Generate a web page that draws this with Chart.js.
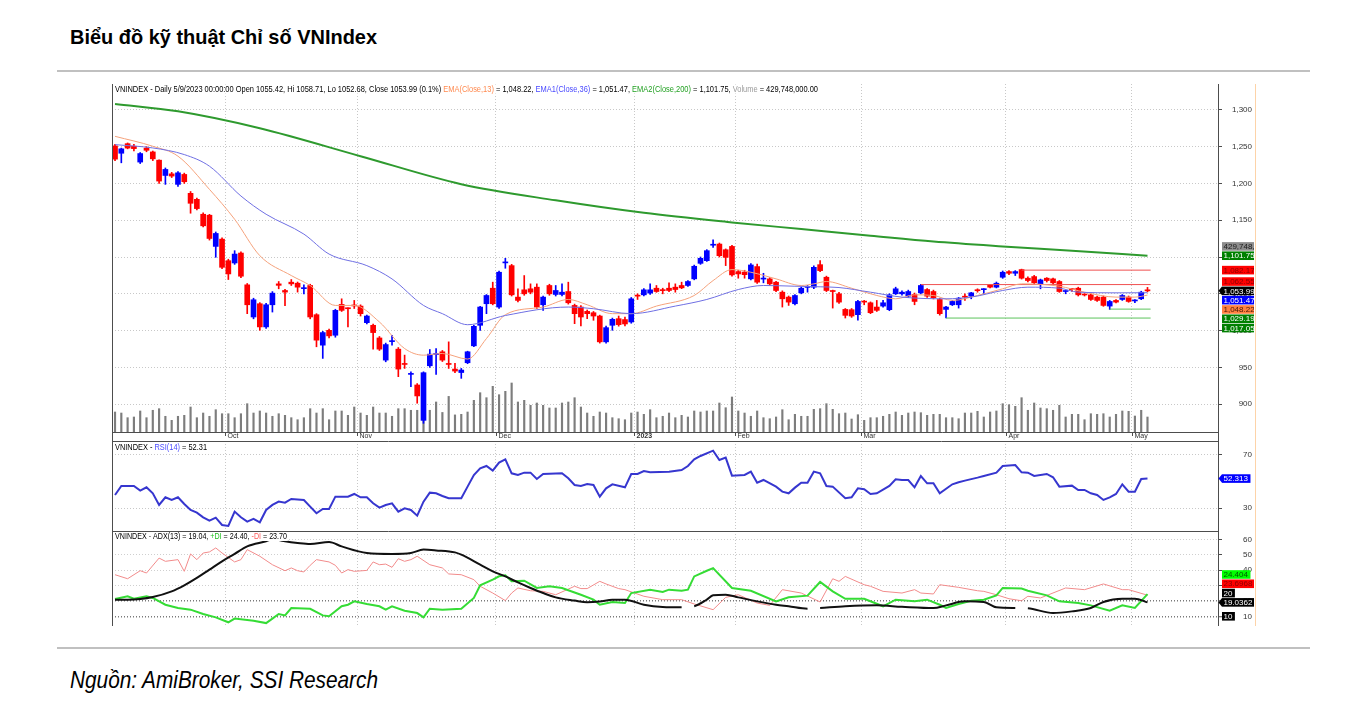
<!DOCTYPE html>
<html>
<head>
<meta charset="UTF-8">
<title>VNIndex</title>
<script src="https://cdn.jsdelivr.net/npm/chart.js"></script>
<style>
  body { margin: 0; background: #fff; }
  #page { position: relative; width: 1348px; height: 707px; overflow: hidden; }
  .txt { position: absolute; white-space: nowrap; line-height: 1; transform-origin: 0 0;
         font-family: "Liberation Sans Narrow", "Liberation Sans", Arial, sans-serif; color: #000; }
  #title { left: 70px; top: 26px; font-size: 21px; font-weight: bold; }
  #foot { left: 70px; top: 668px; font-size: 24px; font-style: italic; }
  .rule { position: absolute; left: 57px; width: 1253px; height: 2px; background: #c0c0c0; }
  canvas { position: absolute; left: 112px; }
</style>
</head>
<body>
<div id="page">
  <div id="title" class="txt">Biểu đồ kỹ thuật Chỉ số VNIndex</div>
  <div class="rule" style="top:70px"></div>
  <canvas id="main" width="1146" height="357" style="top:84px"></canvas>
  <canvas id="rsi" width="1146" height="90" style="top:441px"></canvas>
  <canvas id="adx" width="1146" height="95" style="top:531px"></canvas>
  <div class="rule" style="top:647px"></div>
  <div id="foot" class="txt">Nguồn: AmiBroker, SSI Research</div>
</div>
<script>
// ---- data (one entry per trading day, Sep 2022 - 9 May 2023)
const openP = [
  1251, 1241, 1254, 1250.5, 1229, 1248, 1242.8, 1231.6, 1210.8, 1213,
  1198.7, 1212.2, 1186.5, 1178.4, 1158.1, 1156.8, 1114.4, 1124.3, 1095, 1091.9,
  1105.4, 1062.2, 1018.5, 1036.5, 1005, 1035.1, 1063.5, 1054.5, 1065.8, 1064.4,
  1057, 1061.3, 1021.6, 980.2, 1000.4, 993.7, 1035.6, 1030.3, 1034.3, 1033.3,
  1010.8, 1007.2, 990, 959.9, 985, 974.8, 954.5, 940.5, 926.1, 878,
  952.2, 967.5, 971.2, 955, 947.7, 943, 956.3, 979.3, 1007.2, 1036.5,
  1057.6, 1032, 1092, 1088.3, 1045.5, 1055.4, 1056.8, 1059, 1035.1, 1061.3,
  1049.1, 1049.1, 1053.1, 1034.2, 1032, 1026.1, 1024.3, 1019.8, 984.7, 1007.2,
  1016.2, 1015, 1011.7, 1047.5, 1048.6, 1050.9, 1057.6, 1054.8, 1057.6, 1059,
  1061.3, 1061.3, 1070.3, 1091.4, 1095, 1116, 1117.6, 1109.9, 1114.4, 1080.2,
  1079.5, 1070.3, 1087, 1070, 1070.3, 1065.8, 1052.2, 1045.5, 1036.5, 1051.3,
  1058.7, 1059, 1089.6, 1072.5, 1053.5, 1050, 1028.8, 1028.4, 1021.6, 1039.2,
  1037.8, 1032, 1033.3, 1028.4, 1050, 1050, 1046.8, 1049.1, 1051.3, 1055.8,
  1053.1, 1042.3, 1028.8, 1035.1, 1035.1, 1045.8, 1046.8, 1054.7, 1055.6, 1062.2,
  1059, 1072.5, 1080.2, 1077.9, 1082.9, 1071.2, 1073.4, 1063.5, 1071.2, 1070.3,
  1066.7, 1053.1, 1056, 1057.6, 1048.8, 1048.6, 1045.5, 1045.5, 1033.3, 1041,
  1042.3, 1045.5, 1040.3, 1043.2, 1055.42
];
const highP = [
  1253, 1248, 1255, 1253, 1242, 1250, 1244, 1232, 1221, 1215,
  1216, 1214, 1189, 1180, 1160, 1158, 1134, 1126, 1097, 1108.6,
  1107, 1064, 1044, 1038, 1037, 1053, 1066.7, 1056, 1069.4, 1066,
  1062.2, 1063, 1023, 999, 1002, 1029, 1043.2, 1031, 1041, 1035,
  1021, 1009, 992, 983, 993.7, 977, 966.7, 944.1, 928, 944,
  974.3, 975.7, 973, 984.7, 955.4, 948.6, 972, 1007, 1033, 1049,
  1065.8, 1081, 1098.2, 1090, 1056.8, 1074.8, 1063.5, 1063.5, 1047, 1063,
  1061.3, 1063.5, 1065.8, 1036, 1034, 1028, 1026, 1021, 1006, 1017,
  1019.8, 1018.5, 1045, 1050, 1057, 1063.5, 1061.3, 1057.6, 1064.9, 1063.5,
  1065.8, 1068, 1089, 1100, 1110, 1123.4, 1119, 1111, 1116, 1082,
  1082, 1091, 1090.5, 1077.9, 1072, 1067, 1054, 1047, 1049, 1059,
  1061.3, 1088, 1095, 1074, 1055, 1052, 1030, 1030, 1041, 1041,
  1039, 1041, 1041, 1050, 1059, 1054, 1055, 1051, 1063, 1057,
  1055, 1044, 1033, 1041, 1045, 1050, 1052, 1056.8, 1057, 1063,
  1066, 1081, 1081.5, 1081.5, 1083.5, 1073, 1075, 1070, 1072, 1071.5,
  1068, 1054, 1057.6, 1059, 1050, 1050, 1047, 1047, 1041, 1042.3,
  1049, 1047, 1042.3, 1053.5, 1058.71
];
const lowP = [
  1231, 1228, 1247, 1244, 1227, 1243, 1231, 1200, 1198.7, 1208,
  1196, 1200, 1159.5, 1164, 1141, 1123, 1099.6, 1084, 1069.4, 1090,
  1072, 1023, 1016, 1000.4, 1003, 1025.2, 1056.8, 1034, 1061.3, 1052.3,
  1050, 1016, 978, 962.2, 990, 991, 1026, 1005, 1030, 1019.8,
  1009, 974.8, 973, 957.6, 980.2, 937.4, 948.6, 923.9, 901.3, 874,
  950, 940.5, 958, 948.6, 942.8, 935.1, 955, 978, 1000.4, 1023,
  1035, 1030, 1084.7, 1047, 1039, 1048, 1050, 1030, 1027.5, 1048,
  1047, 1047, 1036, 1009.4, 1006.3, 1016.2, 1014, 983, 983, 1000.4,
  1006, 1006.5, 1010, 1042.3, 1047, 1049, 1052, 1050, 1053, 1052.2,
  1057, 1060, 1069, 1090, 1094, 1113.1, 1100, 1088.3, 1074, 1071.2,
  1071.2, 1069, 1064, 1064.9, 1062, 1053, 1032, 1034.2, 1035, 1050,
  1052.2, 1057, 1080, 1053, 1030.6, 1037, 1017.1, 1018, 1014, 1035.1,
  1023, 1026, 1032, 1027, 1049, 1048, 1045, 1035.1, 1050, 1045,
  1043, 1021, 1017.1, 1034, 1030.6, 1041, 1043.2, 1052.2, 1050, 1058,
  1058, 1071, 1076, 1074.8, 1070, 1066, 1063, 1056.8, 1066, 1063.5,
  1052, 1050, 1053.1, 1047, 1047, 1041, 1039.5, 1033, 1028.8, 1037.5,
  1041, 1038.5, 1037.8, 1042, 1052.68
];
const closeP = [
  1233, 1247, 1248, 1247.3, 1240.6, 1245, 1233.4, 1203.2, 1219, 1210,
  1214.4, 1202.3, 1173, 1165.8, 1142.4, 1125.2, 1132, 1086, 1077, 1104,
  1073.9, 1035.1, 1041.9, 1005, 1035.1, 1050.9, 1061.5, 1052.3, 1063.5, 1059,
  1058, 1018.5, 987, 997.3, 992.8, 1027.5, 1027.5, 1029.7, 1033.5, 1023,
  1019.8, 997.3, 974.8, 981, 985.6, 947.7, 954, 941, 911.2, 942.8,
  968, 968, 959.9, 954, 945, 946.4, 971.2, 1005.8, 1032, 1047.7,
  1036.5, 1079.3, 1093, 1048.6, 1041, 1050, 1052.2, 1032, 1045.5, 1050,
  1054.5, 1052.2, 1037.8, 1023, 1018.5, 1023, 1019.8, 984.7, 1004, 1015.3,
  1008.1, 1009, 1043.2, 1046.8, 1055.4, 1055.4, 1053.1, 1054.3, 1054.5, 1055.8,
  1058.1, 1066.7, 1087.4, 1098.2, 1108.6, 1116.5, 1101.8, 1099.5, 1075.7, 1077,
  1076, 1089.2, 1065.8, 1070.5, 1063.5, 1054.5, 1043.2, 1038.7, 1047.7, 1057.6,
  1059.2, 1086, 1081.5, 1054.5, 1053.1, 1038.7, 1020.7, 1019.8, 1039.6, 1038.7,
  1024.3, 1027.5, 1037.8, 1048.6, 1056.8, 1052.2, 1053.1, 1039.6, 1061.3, 1046.8,
  1044.6, 1023, 1032, 1039.6, 1044.1, 1045.4, 1051.3, 1054.2, 1056, 1059,
  1064.4, 1079.3, 1077.9, 1080.2, 1071.2, 1068, 1064.9, 1068.9, 1068, 1064.9,
  1053.1, 1053.5, 1055.6, 1048.6, 1048.4, 1042.3, 1041, 1034.2, 1039.6, 1038.7,
  1047.7, 1039.6, 1040.7, 1052.2, 1053.99
];
// volume, millions of shares
const volume = [
  573, 544, 410, 430, 602, 410, 622, 668, 450, 335,
  450, 478, 716, 410, 544, 450, 639, 524, 524, 410,
  524, 811, 544, 602, 544, 450, 524, 478, 410, 352,
  410, 668, 544, 668, 352, 602, 602, 478, 716, 544,
  478, 716, 544, 544, 450, 668, 668, 622, 622, 811,
  622, 860, 560, 1020, 490, 507, 573, 908, 1126, 983,
  1309, 1069, 1166, 1404, 860, 908, 765, 831, 765, 688,
  688, 831, 860, 983, 716, 544, 450, 573, 544, 410,
  381, 352, 544, 573, 507, 639, 410, 450, 544, 410,
  478, 430, 602, 573, 602, 602, 831, 696, 1003, 602,
  544, 450, 602, 410, 381, 430, 639, 352, 507, 450,
  450, 650, 668, 811, 650, 524, 544, 372, 496, 335,
  410, 410, 450, 507, 573, 478, 544, 573, 553, 478,
  507, 507, 410, 410, 381, 544, 544, 593, 430, 573,
  602, 811, 782, 736, 983, 622, 831, 688, 668, 622,
  765, 430, 507, 507, 352, 524, 507, 524, 430, 507,
  602, 593, 458, 622, 429.7
];
// moving averages: [day index, value]
const ema13 = [[0,1264],[6,1250.5],[10,1237],[15,1191.9],[19,1151.3],[23,1101.8],[28,1074.8],[31,1061.2],
  [35,1034.2],[38,1034.2],[42,1011.7],[46,975.6],[49,966.6],[52,968.9],[56,961.3],[59,989.2],[62,1021.6],
  [68,1032],[72,1042.3],[75,1035.1],[79,1023],[82,1023],[86,1033.3],[92,1047.7],[95,1068],[98,1082.9],
  [101,1079.3],[105,1070.3],[109,1061.3],[111,1063.5],[113,1066.7],[117,1057.6],[121,1047.7],[124,1043.2],
  [127,1048.6],[130,1047.7],[133,1041],[137,1047.7],[141,1056.8],[144,1063.5],[150,1060.3],[154,1052.2],
  [159,1045.5],[162,1045.5],[164,1048.22]];
const ema36 = [[0,1252.7],[6,1248.2],[11,1239.2],[15,1223.4],[20,1182.9],[24,1158.1],[30,1131.1],[34,1104],
  [40,1088.3],[44,1070.2],[49,1034.2],[52,1023],[56,1008],[62,1020.5],[72,1032],[76,1029.7],[82,1023],
  [89,1033.3],[94,1042.3],[99,1055.8],[103,1061.3],[108,1060.3],[112,1059.5],[115,1058.5],[120,1052.2],
  [125,1045.5],[132,1043.2],[136,1045.5],[141,1054.5],[145,1059],[150,1057.6],[153,1052.2],[159,1051.3],
  [164,1051.47]];
const ema200 = [[0,1308],[10,1298],[23,1275],[39,1237],[55,1199],[70,1177],[84,1160],[98,1147],[109,1138],
  [120,1129],[130,1121],[141,1114.4],[152,1108.6],[164,1101.75]];
// horizontal levels: value, first day
const resistLevels = [1082.17, 1062.55];
const resistFrom = [144, 128];
const supportLevels = [1029.19, 1017.05];
const supportFrom = [158, 132];
const levelTo = 164.5;

const rsi = [[0,40],[1,46.75],[3,46.75],[4,43.25],[5,45.75],[6,41.25],[7,32.5],[8,38.25],[9,36.25],[10,38.25],
  [11,33.25],[12,28.75],[13,26.75],[14,23.25],[15,20.75],[16,23],[17,17.5],[18,16.75],[19,27.5],[20,23.25],
  [21,20],[22,22],[23,19.5],[24,28.75],[25,32.5],[26,35],[27,34.25],[28,37],[30,36.25],[31,31.25],[32,26.25],
  [33,29.5],[34,29.5],[35,38.75],[37,38.75],[38,40.75],[39,38.25],[40,38.25],[41,33.75],[42,30.5],[43,32.5],
  [44,33.75],[45,27.5],[46,30],[47,28.75],[48,24.5],[49,35],[50,41.75],[51,41.25],[52,39.25],[53,37.5],
  [55,37.5],[56,46.25],[57,55],[58,60],[59,61.75],[60,58.25],[61,64.25],[62,66.75],[63,56.25],[64,55],
  [65,56.75],[66,56.75],[67,52],[68,55.75],[71,56.25],[72,52.5],[73,47.5],[74,46.75],[75,48.25],[76,47.5],
  [77,38.75],[78,45],[79,48],[81,45.75],[82,55.75],[83,55.75],[84,58],[85,57],[88,57.5],[90,58.75],
  [91,61.75],[92,66.75],[93,69.25],[95,73.25],[96,66.25],[97,68],[98,54.5],[100,55],[101,57.5],[102,49.25],
  [103,51.25],[105,46.25],[106,42.5],[107,41.25],[108,45.5],[109,49.25],[110,49.25],[111,57.5],[112,56.25],
  [113,46.75],[114,46.25],[116,37.5],[117,38.25],[118,45],[119,44.25],[120,40.75],[121,41.25],[123,46.75],
  [124,51.75],[125,51.25],[126,51.25],[127,45.75],[128,54.25],[129,48.75],[130,48.75],[131,41.25],[133,48],
  [134,49.5],[135,50.75],[137,53],[138,54.25],[140,56.75],[141,61.75],[143,62.5],[144,57],[145,56.75],
  [146,54.25],[148,55.75],[149,53.25],[150,46.25],[152,47],[153,43.75],[154,43.75],[155,41.25],[156,40],
  [157,36.25],[158,38.25],[159,40.75],[160,48],[161,42.5],[162,42.5],[163,52],[164,52.31]];

const adx = [[0,20.8],[2,20.8],[4,21.2],[6,22.5],[9,26.2],[11,30.1],[13,34.9],[15,40.3],[17,45.7],[19,50.5],
  [21,55.4],[24,58.7],[25,60],[26,59.5],[27,58.7],[29,57.6],[31,56.9],[34,58.2],[36,55.4],[40,51.1],
  [44,50.5],[47,51.1],[49,53.3],[51,52.8],[54,51.5],[55,50],[58,43.5],[60,39.2],[62,35.9],[64,32],
  [66,28.4],[68,25.1],[70,22.3],[73,20.2],[75,19.1],[77,19.6],[79,20.8],[81,20.8],[84,17.5],[87,16],
  [90,15.8],[92,16.5],[94,20.8],[95,23.6],[97,24],[99,22.3],[102,19.7],[105,17.5],[107,16.5],[110,14.9],
  [112,15.4],[116,16.5],[121,17.1],[125,16.2],[130,15.4],[132,17.1],[135,19.7],[138,19.3],[140,15.8],
  [143,15.4],[145,15.2],[149,12.1],[152,13.2],[155,15.4],[157,19.3],[160,21.4],[162,21.4],[164,19.04]];
const adxBreaks = [90, 110, 143];
const minusDI = [[0,37],[2,34.4],[4,39.6],[5,38.1],[7,47.8],[8,45.7],[10,46.8],[11,39.2],[12,50.5],[13,46.8],
  [14,51.1],[15,51.8],[16,54.4],[17,51.1],[19,45.3],[20,46.8],[21,53.3],[23,49],[25,43.5],[27,39.6],
  [28,41.4],[29,39.6],[30,38.8],[31,43.1],[32,46.8],[34,45.3],[35,43.1],[36,38.1],[37,40.3],[38,39.2],
  [40,39.8],[41,45.3],[42,43.5],[43,43.9],[44,41.8],[45,47.4],[46,45.7],[47,46.8],[48,49],[50,43.5],
  [52,41.4],[53,37.5],[55,37],[57,33.8],[58,29.5],[60,25.1],[62,20.2],[63,25.1],[64,28.4],[66,26.6],
  [68,26.2],[70,24],[73,29.5],[74,28],[75,28],[77,32.7],[78,31],[80,28],[81,27.3],[84,23],[87,20.8],
  [90,20.8],[92,18],[95,14.3],[97,22.3],[99,24],[102,18.6],[104,17.1],[106,27.3],[109,25.1],[112,19.3],
  [114,34.4],[115,32.7],[116,35.9],[119,30.5],[120,29.5],[122,26.2],[125,25.1],[127,27.3],[128,25.1],
  [130,24.5],[131,30.5],[134,28.8],[137,26.6],[138,26.2],[140,24],[142,21.4],[144,20.1],[145,23],[147,21.9],
  [151,28.4],[154,27.3],[157,31],[160,27.3],[161,27.3],[164,23.7]];
const plusDI = [[0,21.2],[2,23],[3,21.4],[5,23],[6,21.9],[8,17.5],[10,15.4],[12,14.3],[14,11.5],[16,9.3],
  [18,6.1],[19,8.5],[22,7.1],[24,5.6],[25,8.5],[26,11.5],[27,10.6],[28,15.4],[31,14.9],[33,10.6],[34,10],
  [36,16.5],[37,17.5],[38,19.7],[40,18],[42,16.5],[43,14.3],[44,16.5],[46,13.6],[48,12.1],[49,9.3],
  [50,14.9],[52,14.3],[55,14.9],[57,21.9],[58,30.1],[60,33.8],[61,36],[62,36.6],[63,32.7],[65,33.1],
  [67,28.4],[69,29.5],[71,28.4],[74,24],[76,20.8],[77,17.5],[79,19.3],[81,18.6],[82,25.1],[85,27.3],
  [87,25.8],[88,27.3],[90,26.6],[91,27.3],[92,35.9],[94,39.6],[95,41.3],[98,28.4],[101,26.6],[105,19.7],
  [107,22.3],[110,23.4],[112,32.3],[114,26.2],[116,21.4],[119,21.4],[122,16.5],[124,20.8],[127,19.7],
  [129,20.8],[131,17.5],[132,15.4],[134,18],[136,20.1],[138,20.8],[140,23.6],[141,28.4],[144,28],
  [145,26.6],[148,23.6],[150,19.7],[153,18.6],[155,17.1],[158,13.6],[160,17.1],[162,15.4],[164,24.4]];

// axis ticks and labels
const monthStart = [18, 39, 61, 83, 99, 119, 142, 162];
const monthLabel = ['Oct', 'Nov', 'Dec', '2023', 'Feb', 'Mar', 'Apr', 'May'];
const priceTicks = [900, 950, 1000, 1050, 1100, 1150, 1200, 1250, 1300];
const rsiTicks = [30, 70];
const adxTicks = [10, 20, 30, 40, 50, 60];

// ---- drawing
const SANS = '"Liberation Sans", Arial, sans-serif';
const NARROW = '"Liberation Sans Narrow", "Liberation Sans", Arial, sans-serif';
const RED = '#ff0000', BLUE = '#0000ff';
const X_MIN = -0.48, X_MAX = 175.2;
Chart.defaults.font.family = SANS;

const last = a => a[a.length - 1];
const xy = pairs => pairs.map(p => ({x: p[0], y: p[1]}));
const fmt2 = v => v.toLocaleString('en-US', {minimumFractionDigits: 2, maximumFractionDigits: 2});
const candleColor = closeP.map((c, i) => c >= openP[i] ? BLUE : RED);

function makePanel(cfg) {
  return {
    id: 'panel',
    afterDatasetsDraw(chart) {
      const {ctx, chartArea: a} = chart;
      const ys = chart.scales.y;
      ctx.save();
      ctx.font = '8px ' + SANS;
      ctx.fillStyle = '#333';
      ctx.textAlign = 'right';
      ctx.textBaseline = 'middle';
      cfg.yTicks.forEach(v => ctx.fillText(cfg.fmt(v), a.right + 34, ys.getPixelForValue(v)));
      // panel title
      ctx.font = '9px ' + NARROW;
      ctx.textAlign = 'left';
      const w = cfg.header.map(p => ctx.measureText(p[0]).width);
      const total = w.reduce((s, d) => s + d, 0);
      ctx.translate(a.left + 3, a.top + cfg.dy);
      ctx.scale(cfg.headerWidth / total, 1);
      ctx.fillStyle = '#fff';
      ctx.fillRect(-1, -4.5, total + 2, 9);
      let x = 0;
      cfg.header.forEach((p, i) => { ctx.fillStyle = p[1]; ctx.fillText(p[0], x, 0.5); x += w[i]; });
      ctx.restore();
    },
    afterDraw(chart) {
      const {ctx, chartArea: a} = chart;
      ctx.save();
      ctx.lineWidth = 1;
      ctx.strokeStyle = '#4d4d4d';
      ctx.beginPath();
      ctx.moveTo(a.left + 0.5, 0); ctx.lineTo(a.left + 0.5, chart.height);
      ctx.moveTo(a.right + 0.5, 0); ctx.lineTo(a.right + 0.5, chart.height);
      if (cfg.topLine) { ctx.moveTo(a.left, 0.5); ctx.lineTo(a.right, 0.5); }
      ctx.stroke();
      ctx.strokeStyle = '#fdd3a8';
      ctx.beginPath(); ctx.moveTo(a.right + 37.5, 0); ctx.lineTo(a.right + 37.5, chart.height); ctx.stroke();

      if (cfg.months) {
        const sx = chart.scales.x;
        ctx.strokeStyle = '#4d4d4d';
        ctx.fillStyle = '#333';
        ctx.textBaseline = 'middle';
        monthStart.forEach((m, i) => {
          const px = Math.round(sx.getPixelForValue(m - 0.5)) + 0.5;
          ctx.beginPath(); ctx.moveTo(px, a.bottom); ctx.lineTo(px, a.bottom + 4); ctx.stroke();
          ctx.font = (monthLabel[i] === '2023' ? 'bold ' : '') + '7px ' + SANS;
          ctx.fillText(monthLabel[i], px + 2, a.bottom + 4.5);
        });
      }

      // value tags on the right axis, stacked away from the arrowed one
      const ys = chart.scales.y, gap = 9.3, h = 8.6;
      const items = cfg.tags.map(t => Object.assign({}, t, {py: t.v == null ? null : ys.getPixelForValue(t.v)}));
      const anchor = items.find(t => t.arrow);
      let prev = anchor.py;
      items.filter(t => t !== anchor && t.py != null && t.py <= anchor.py).sort((p, q) => q.py - p.py)
        .forEach(t => { t.py = Math.min(t.py, prev - gap); prev = t.py; });
      prev = anchor.py;
      items.filter(t => t !== anchor && t.py != null && t.py > anchor.py).sort((p, q) => p.py - q.py)
        .forEach(t => { t.py = Math.max(t.py, prev + gap); prev = t.py; });
      let top = Math.min(...items.filter(t => t.py != null).map(t => t.py));
      items.filter(t => t.py == null).forEach(t => { t.py = top - gap; top = t.py; });

      ctx.beginPath(); ctx.rect(a.right, 0, 36, chart.height); ctx.clip();
      ctx.font = '8px ' + SANS;
      ctx.textBaseline = 'middle';
      ctx.textAlign = 'left';
      items.forEach(t => {
        const x0 = a.right + 4;
        const w = ctx.measureText(t.t).width + 4;
        ctx.fillStyle = t.bg;
        ctx.fillRect(x0, t.py - h / 2, w, h);
        if (t.arrow) {
          ctx.beginPath();
          ctx.moveTo(a.right + 0.5, t.py); ctx.lineTo(x0, t.py - h / 2); ctx.lineTo(x0, t.py + h / 2);
          ctx.closePath(); ctx.fill();
        }
        ctx.fillStyle = t.fg;
        ctx.fillText(t.t, x0 + 1.5, t.py + 0.5);
      });
      ctx.restore();
    }
  };
}

function xScale(showBorder) {
  return {
    type: 'linear', min: X_MIN, max: X_MAX, offset: false,
    afterBuildTicks: s => { s.ticks = monthStart.map(m => ({value: m - 0.5})); },
    afterFit: s => { s.height = 0; s.paddingLeft = 0; s.paddingRight = 0; },
    ticks: {display: false},
    grid: {color: '#c8c8c8', drawTicks: false, offset: false},
    border: {display: showBorder, color: '#4d4d4d', dash: [1, 2]}
  };
}
function yScale(min, max, ticks, grid) {
  return {
    position: 'right', min: min, max: max,
    afterBuildTicks: s => { s.ticks = ticks.map(v => ({value: v})); },
    afterFit: s => { s.width = 34; s.paddingTop = 0; s.paddingBottom = 0; },
    ticks: {display: false},
    grid: Object.assign({color: '#c8c8c8', lineWidth: 1, drawTicks: true, tickLength: 4,
      tickColor: '#4d4d4d', tickWidth: 1, tickBorderDash: []}, grid || {}),
    border: {display: false, dash: [1, 2]}
  };
}
const base = {
  responsive: false, animation: false, events: [],
  elements: {point: {radius: 0}},
  plugins: {legend: {display: false}, tooltip: {enabled: false}}
};

const line = (pairs, color, width, extra) => Object.assign({
  type: 'line', data: xy(pairs), borderColor: color, borderWidth: width, pointRadius: 0, yAxisID: 'y'
}, extra || {});

const levelSets = [];
resistLevels.forEach((v, i) => levelSets.push(line([[resistFrom[i], v], [levelTo, v]], '#f05050', 1, {order: 2})));
supportLevels.forEach((v, i) => levelSets.push(line([[supportFrom[i], v], [levelTo, v]], '#5cc45c', 1, {order: 2})));

new Chart(document.getElementById('main'), {
  type: 'bar',
  data: {datasets: [
    line(ema200, '#2e9a2e', 2, {cubicInterpolationMode: 'monotone', order: 1}),
    line(ema36, '#6f6fe3', 1, {cubicInterpolationMode: 'monotone', order: 1}),
    line(ema13, '#f5a27c', 1, {cubicInterpolationMode: 'monotone', order: 1}),
    ...levelSets,
    {label: 'body', data: openP.map((o, i) => ({x: i, y: [o, closeP[i]]})), backgroundColor: candleColor,
      barThickness: 5, minBarLength: 1, grouped: false, yAxisID: 'y', order: 5},
    {label: 'wick', data: lowP.map((l, i) => ({x: i, y: [l, highP[i]]})), backgroundColor: candleColor,
      barThickness: 1, grouped: false, yAxisID: 'y', order: 6},
    {label: 'volume', data: volume.map((v, i) => ({x: i, y: v})), backgroundColor: '#7d7d7d',
      barThickness: 1.5, grouped: false, yAxisID: 'yVol', order: 7}
  ]},
  options: Object.assign({}, base, {
    layout: {padding: {right: 6, bottom: 9}},
    scales: {
      x: xScale(true),
      y: yScale(864.9 - 2.7, 1335.1, priceTicks),
      yVol: {display: false, min: 0, max: 9970}
    }
  }),
  plugins: [makePanel({
    yTicks: priceTicks, fmt: v => v.toLocaleString('en-US'), months: true, dy: 5, headerWidth: 703,
    header: [
      ['VNINDEX - Daily 5/9/2023 00:00:00 Open ' + openP[openP.length - 1] + ', Hi ' + last(highP) +
        ', Lo ' + last(lowP) + ', Close ' + last(closeP) + ' (0.1%) ', '#000'],
      ['EMA(Close,13)', '#ff8a50'], [' = ' + fmt2(last(ema13)[1]) + ', ', '#000'],
      ['EMA1(Close,36)', '#4a4aff'], [' = ' + fmt2(last(ema36)[1]) + ', ', '#000'],
      ['EMA2(Close,200)', '#22a022'], [' = ' + fmt2(last(ema200)[1]) + ', ', '#000'],
      ['Volume', '#9a9a9a'], [' = 429,748,000.00', '#000']
    ],
    tags: [
      {v: null, bg: '#8c8c8c', fg: '#1a1a1a', t: '429,748,000.00'},
      {v: last(ema200)[1], bg: '#008000', fg: '#fff', t: fmt2(last(ema200)[1])},
      {v: resistLevels[0], bg: RED, fg: '#8a0000', t: fmt2(resistLevels[0])},
      {v: resistLevels[1], bg: RED, fg: '#8a0000', t: fmt2(resistLevels[1])},
      {v: last(closeP), bg: '#000', fg: '#fff', t: fmt2(last(closeP)), arrow: true},
      {v: last(ema36)[1], bg: BLUE, fg: '#fff', t: fmt2(last(ema36)[1])},
      {v: last(ema13)[1], bg: '#ff8040', fg: '#4a1800', t: fmt2(last(ema13)[1])},
      {v: supportLevels[0], bg: '#008000', fg: '#fff', t: fmt2(supportLevels[0])},
      {v: supportLevels[1], bg: '#008000', fg: '#fff', t: fmt2(supportLevels[1])}
    ]
  })]
});

new Chart(document.getElementById('rsi'), {
  type: 'line',
  data: {datasets: [line(rsi, '#3636cf', 2)]},
  options: Object.assign({}, base, {
    layout: {padding: {right: 6}},
    scales: {x: xScale(false), y: yScale(12.96, 80.5, rsiTicks)}
  }),
  plugins: [makePanel({
    yTicks: rsiTicks, fmt: v => String(v), topLine: true, dy: 6, headerWidth: 92,
    header: [['VNINDEX - ', '#000'], ['RSI(14)', '#4a4aff'], [' = ' + last(rsi)[1].toFixed(2), '#000']],
    tags: [{v: last(rsi)[1], bg: BLUE, fg: '#fff', t: '52.313', arrow: true}]
  })]
});

new Chart(document.getElementById('adx'), {
  type: 'line',
  data: {datasets: [
    line(adx, '#111', 2, {cubicInterpolationMode: 'monotone',
      segment: {borderColor: c => adxBreaks.includes(adx[c.p0DataIndex][0]) ? 'rgba(0,0,0,0)' : '#111'}}),
    line(plusDI, '#35dc35', 2),
    line(minusDI, '#f28b8b', 1)
  ]},
  options: Object.assign({}, base, {
    layout: {padding: {right: 6}},
    scales: {
      x: xScale(false),
      y: yScale(3.7, 65.39, adxTicks, {
        color: c => (c.tick && (c.tick.value === 20 || c.tick.value === 10)) ? '#7a7a7a' : '#cfcfcf',
        lineWidth: c => (c.tick && (c.tick.value === 20 || c.tick.value === 10)) ? 1.5 : 1
      })
    }
  }),
  plugins: [makePanel({
    yTicks: adxTicks, fmt: v => String(v), topLine: true, dy: 5.5, headerWidth: 172,
    header: [['VNINDEX - ADX(13) = ' + last(adx)[1].toFixed(2) + ', ', '#000'], ['+DI', '#22c022'],
      [' = ' + last(plusDI)[1].toFixed(2) + ', ', '#000'], ['-DI', '#ff5a5a'],
      [' = ' + last(minusDI)[1].toFixed(2), '#000']],
    tags: [
      {v: last(plusDI)[1], bg: '#00ff00', fg: '#005a00', t: '24.404'},
      {v: last(minusDI)[1], bg: RED, fg: '#8a0000', t: '23.6968'},
      {v: 20, bg: '#000', fg: '#fff', t: '20'},
      {v: last(adx)[1], bg: '#000', fg: '#fff', t: '19.0362', arrow: true},
      {v: 10, bg: '#000', fg: '#fff', t: '10'}
    ]
  })]
});

// squeeze the narrow headline and source line to their printed widths
[['title', 307], ['foot', 308]].forEach(([id, w]) => {
  const el = document.getElementById(id);
  el.style.transform = 'scaleX(' + (w / el.getBoundingClientRect().width) + ')';
});
</script>
</body>
</html>
